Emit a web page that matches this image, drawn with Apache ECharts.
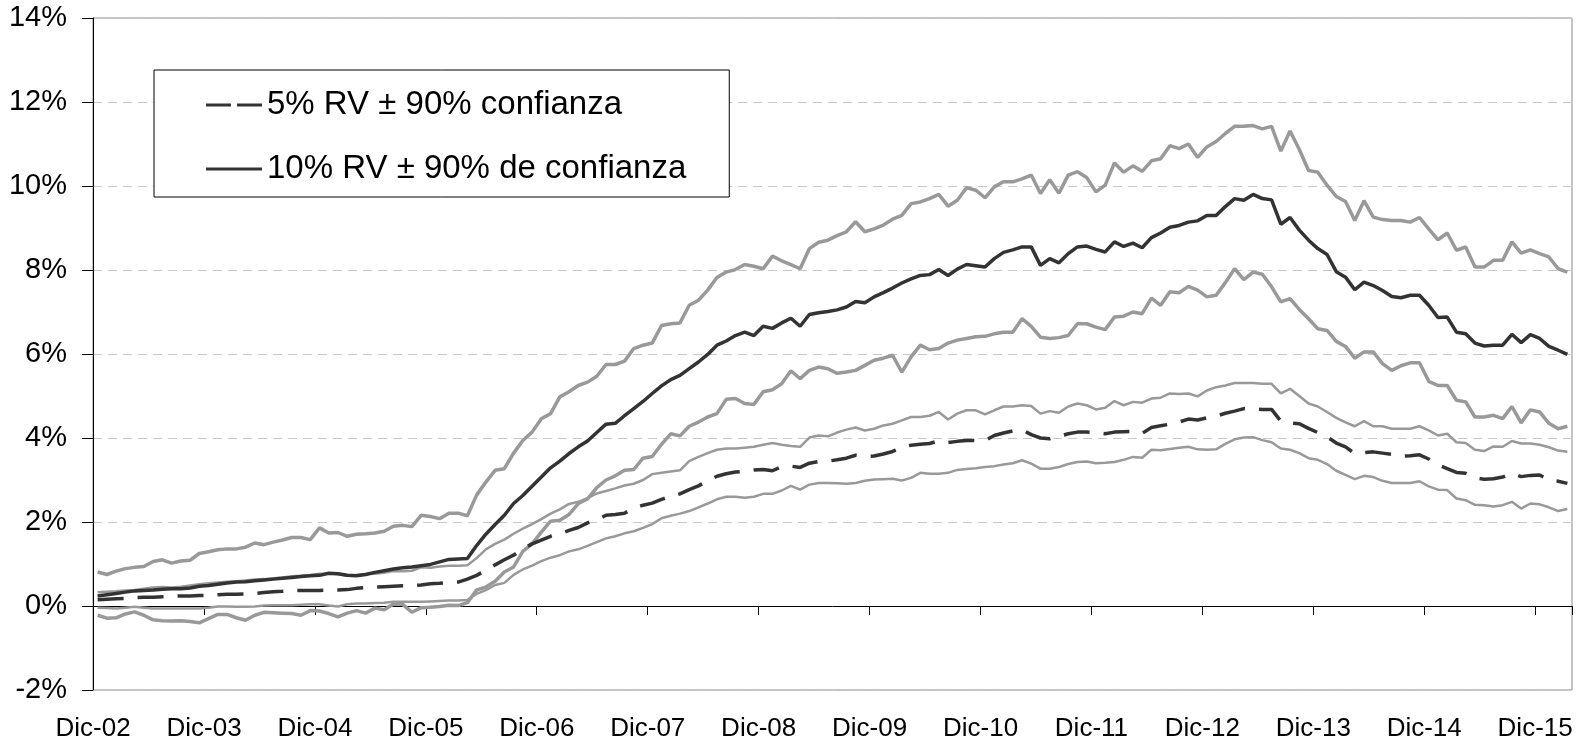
<!DOCTYPE html>
<html>
<head>
<meta charset="utf-8">
<script src="https://cdn.jsdelivr.net/npm/echarts@6/dist/echarts.min.js"></script>
<style>
html,body{margin:0;padding:0;background:#fff;}
#chart{width:1594px;height:748px;}
</style>
</head>
<body>
<div id="chart"></div>
<script>
// Monthly categories Dic-02 .. Mar-16 (160 months)
const monthNames = ['Ene','Feb','Mar','Abr','May','Jun','Jul','Ago','Sep','Oct','Nov','Dic'];
const startMonth = 11, startYear = 2, monthCount = 160;
const categories = [];
for (let k = 0; k < monthCount; k++) {
  const m = (startMonth + k) % 12;
  const y = startYear + Math.floor((startMonth + k) / 12);
  categories.push(monthNames[m] + '-' + String(y).padStart(2, '0'));
}

const yTicks = {min: -2, max: 14, interval: 2};

const name5 = '5% RV ± 90% confianza';
const name10 = '10% RV ± 90% de confianza';

// 10% RV: upper band, central, lower band (%)
const c10Upper = [
0.81,0.75,0.83,0.89,0.92,0.94,1.06,1.10,1.02,1.07,1.09,1.25,1.29,1.34,1.36,1.36,1.40,1.50,1.46,1.52,1.57,1.63,1.63,1.58,1.86,1.74,1.75,1.66,1.71,1.72,1.74,1.78,1.90,1.92,1.89,2.16,2.13,
2.08,2.21,2.21,2.15,2.64,2.95,3.23,3.27,3.64,3.94,4.14,4.46,4.58,4.98,5.10,5.25,5.33,5.47,5.75,5.75,5.83,6.13,6.21,6.26,6.68,6.72,6.74,7.16,7.28,7.52,7.82,7.95,8.01,8.13,8.09,8.03,
8.33,8.22,8.13,8.03,8.51,8.66,8.71,8.82,8.91,9.15,8.91,8.98,9.07,9.21,9.30,9.58,9.62,9.70,9.80,9.52,9.66,9.96,9.90,9.72,9.98,10.10,10.10,10.17,10.26,9.82,10.15,9.83,10.26,10.34,10.20,9.86,
10.02,10.55,10.33,10.48,10.35,10.60,10.65,10.96,10.89,11.00,10.68,10.93,11.06,11.25,11.42,11.42,11.44,11.36,11.42,10.83,11.31,10.87,10.37,10.33,10.02,
9.75,9.63,9.18,9.65,9.26,9.20,9.18,9.18,9.14,9.25,8.98,8.72,8.88,8.47,8.55,8.07,8.07,8.23,8.23,8.67,8.40,8.48,8.39,8.31,8.03,7.95];

const c10Central = [
0.24,0.27,0.30,0.33,0.36,0.37,0.38,0.40,0.41,0.41,0.43,0.47,0.49,0.52,0.55,0.57,0.58,0.60,0.62,0.64,0.66,0.68,0.70,0.72,0.73,0.78,0.77,0.73,0.72,0.75,0.80,0.84,0.88,0.91,0.93,0.96,0.99,
1.05,1.11,1.12,1.13,1.44,1.71,1.94,2.16,2.44,2.63,2.85,3.07,3.29,3.45,3.63,3.79,3.93,4.13,4.33,4.35,4.53,4.70,4.87,5.06,5.24,5.39,5.49,5.65,5.81,5.99,6.21,6.31,6.44,6.52,6.44,6.66,
6.61,6.74,6.85,6.66,6.94,6.98,7.01,7.05,7.12,7.25,7.22,7.36,7.46,7.57,7.69,7.79,7.87,7.89,8.01,7.87,8.02,8.13,8.10,8.07,8.27,8.42,8.48,8.55,8.55,8.11,8.27,8.17,8.39,8.55,8.57,8.49,
8.43,8.67,8.56,8.64,8.53,8.77,8.88,9.02,9.06,9.14,9.17,9.30,9.30,9.51,9.70,9.66,9.80,9.70,9.67,9.09,9.25,8.95,8.71,8.51,8.37,
7.96,7.83,7.53,7.71,7.63,7.51,7.37,7.34,7.40,7.40,7.16,6.87,6.88,6.52,6.48,6.26,6.19,6.21,6.21,6.47,6.27,6.46,6.37,6.18,6.09,5.99];

const c10Lower = [
-0.22,-0.29,-0.28,-0.19,-0.14,-0.22,-0.33,-0.35,-0.36,-0.35,-0.37,-0.40,-0.30,-0.20,-0.20,-0.28,-0.34,-0.22,-0.15,-0.16,-0.17,-0.18,-0.22,-0.11,-0.12,-0.18,-0.26,-0.17,-0.11,-0.17,-0.05,-0.09,0.05,0.04,-0.15,-0.04,-0.03,
-0.01,0.02,0.01,0.08,0.38,0.45,0.59,0.81,0.93,1.30,1.48,1.76,2.02,2.04,2.18,2.44,2.55,2.82,3.00,3.10,3.23,3.25,3.52,3.56,3.85,4.10,4.05,4.28,4.38,4.50,4.58,4.92,4.94,4.82,4.80,5.10,
5.15,5.29,5.60,5.41,5.61,5.69,5.65,5.54,5.57,5.61,5.73,5.85,5.90,5.97,5.57,5.93,6.21,6.10,6.13,6.26,6.33,6.37,6.41,6.42,6.48,6.52,6.52,6.84,6.66,6.40,6.37,6.39,6.44,6.72,6.72,6.64,
6.58,6.88,6.90,7.00,6.96,7.33,7.16,7.48,7.46,7.61,7.52,7.36,7.40,7.70,8.03,7.77,7.95,7.90,7.60,7.24,7.32,7.06,6.84,6.60,6.56,
6.30,6.18,5.90,6.05,6.05,5.77,5.61,5.72,5.79,5.79,5.35,5.25,5.25,4.90,4.86,4.50,4.50,4.54,4.46,4.75,4.36,4.67,4.62,4.35,4.22,4.28];

// 5% RV: upper band, central, lower band (%)
const c5Upper = [
0.33,0.34,0.35,0.37,0.38,0.41,0.44,0.45,0.44,0.46,0.49,0.52,0.54,0.56,0.58,0.59,0.61,0.63,0.64,0.66,0.68,0.71,0.72,0.74,0.77,0.77,0.76,0.72,0.74,0.76,0.77,0.79,0.83,0.83,0.84,0.92,0.91,
0.94,0.96,0.96,0.97,1.14,1.35,1.48,1.58,1.72,1.84,1.95,2.07,2.20,2.30,2.43,2.48,2.57,2.68,2.74,2.80,2.87,2.91,3.00,3.14,3.17,3.20,3.23,3.45,3.55,3.64,3.72,3.75,3.75,3.77,3.79,3.84,
3.88,3.84,3.81,3.79,4.01,4.06,4.04,4.13,4.20,4.25,4.18,4.22,4.30,4.34,4.42,4.50,4.50,4.53,4.62,4.44,4.58,4.66,4.66,4.56,4.66,4.75,4.75,4.78,4.76,4.58,4.64,4.60,4.75,4.82,4.78,4.68,
4.72,4.88,4.78,4.86,4.84,4.94,4.96,5.06,5.05,5.06,4.99,5.13,5.21,5.25,5.31,5.31,5.31,5.29,5.29,5.06,5.17,5.00,4.82,4.75,4.62,
4.48,4.37,4.28,4.40,4.28,4.28,4.22,4.22,4.22,4.28,4.18,4.06,4.10,3.90,3.88,3.72,3.69,3.80,3.79,3.93,3.87,3.87,3.84,3.78,3.70,3.67];

const c5Central = [
0.15,0.16,0.17,0.18,0.20,0.21,0.21,0.22,0.23,0.24,0.24,0.25,0.25,0.27,0.28,0.28,0.29,0.30,0.32,0.34,0.35,0.37,0.37,0.37,0.37,0.38,0.38,0.39,0.42,0.44,0.45,0.46,0.47,0.48,0.48,0.50,0.53,
0.54,0.56,0.57,0.64,0.73,0.85,0.98,1.10,1.21,1.36,1.48,1.57,1.66,1.72,1.80,1.87,1.98,2.05,2.16,2.18,2.21,2.33,2.40,2.45,2.54,2.61,2.67,2.77,2.86,2.98,3.09,3.15,3.19,3.21,3.24,3.25,
3.22,3.32,3.33,3.30,3.40,3.44,3.45,3.48,3.52,3.59,3.56,3.57,3.62,3.68,3.77,3.83,3.85,3.87,3.93,3.89,3.92,3.94,3.94,3.94,4.06,4.12,4.17,4.20,4.08,4.00,3.98,4.04,4.10,4.14,4.14,4.13,
4.10,4.14,4.15,4.16,4.11,4.25,4.29,4.33,4.38,4.45,4.43,4.48,4.52,4.59,4.64,4.70,4.69,4.68,4.68,4.40,4.36,4.34,4.23,4.13,4.03,
3.88,3.79,3.63,3.65,3.67,3.64,3.61,3.57,3.58,3.60,3.50,3.36,3.27,3.18,3.16,3.05,3.02,3.03,3.07,3.16,3.08,3.11,3.12,3.00,2.97,2.92];

const c5Lower = [
-0.04,-0.05,-0.06,-0.04,-0.02,-0.04,-0.06,-0.06,-0.06,-0.06,-0.06,-0.06,-0.04,-0.01,-0.01,-0.02,-0.02,-0.01,0.01,0.02,0.02,0.02,0.03,0.04,0.04,0.01,-0.01,0.04,0.06,0.06,0.07,0.08,0.10,0.10,0.10,0.10,0.11,
0.12,0.13,0.13,0.14,0.29,0.38,0.50,0.55,0.74,0.87,0.96,1.07,1.15,1.21,1.30,1.35,1.43,1.52,1.61,1.66,1.73,1.78,1.86,1.95,2.09,2.15,2.20,2.26,2.35,2.44,2.54,2.60,2.60,2.58,2.60,2.67,
2.67,2.75,2.86,2.77,2.89,2.93,2.93,2.92,2.91,2.93,2.98,3.01,3.02,3.03,2.99,3.05,3.17,3.15,3.15,3.17,3.24,3.26,3.28,3.31,3.33,3.37,3.40,3.47,3.39,3.27,3.27,3.31,3.38,3.43,3.44,3.40,
3.41,3.43,3.48,3.55,3.53,3.72,3.71,3.74,3.77,3.79,3.73,3.72,3.73,3.86,3.97,4.01,4.02,3.95,3.90,3.75,3.72,3.64,3.52,3.48,3.38,
3.22,3.12,3.02,3.10,3.07,2.98,2.93,2.93,2.93,2.97,2.85,2.77,2.76,2.56,2.52,2.41,2.40,2.37,2.40,2.48,2.32,2.44,2.42,2.35,2.26,2.31];

const FONT = "'Liberation Sans', Arial, sans-serif";
const DARK = '#333333';
const GRAY = '#999999';

function band(name, data, width) {
  return {name: name, type: 'line', data: data, symbol: 'none', silent: true,
    lineStyle: {color: GRAY, width: width}, itemStyle: {color: GRAY}, z: 2};
}

const chart = echarts.init(document.getElementById('chart'), null, {renderer: 'canvas'});
chart.setOption({
  animation: false,
  backgroundColor: '#ffffff',
  textStyle: {fontFamily: FONT},
  grid: {left: 93, right: 22, top: 18, bottom: 58, show: true, borderColor: '#8a8a8a', borderWidth: 1, backgroundColor: 'transparent'},
  legend: {
    data: [
      {name: name5, icon: 'path://M0,0H25V3H0Z M31,0H56V3H31Z'},
      {name: name10, icon: 'path://M0,0H56V3H0Z'}
    ],
    orient: 'vertical',
    left: 154, top: 70,
    padding: [18, 43, 11, 52],
    itemGap: 30,
    itemWidth: 56, itemHeight: 3,
    borderColor: '#000', borderWidth: 1, backgroundColor: '#fff',
    selectedMode: false,
    textStyle: {fontFamily: FONT, fontSize: 33, color: '#000', lineHeight: 34}
  },
  xAxis: {
    type: 'category',
    data: categories,
    boundaryGap: true,
    axisLine: {lineStyle: {color: '#000', width: 1}},
    axisTick: {show: true, length: 9, lineStyle: {color: '#000'}, alignWithLabel: false,
      interval: function (i) { return i % 12 === 0; }},
    axisLabel: {interval: function (i) { return i % 12 === 0; }, fontFamily: FONT, fontSize: 26, color: '#000', margin: 26, padding: [0, 9, 0, 0]},
    splitLine: {show: false}
  },
  yAxis: {
    type: 'value',
    min: yTicks.min, max: yTicks.max, interval: yTicks.interval,
    axisLine: {show: true, lineStyle: {color: '#000', width: 1}},
    axisTick: {show: true, length: 11, lineStyle: {color: '#000'}},
    axisLabel: {formatter: '{value}%', fontFamily: FONT, fontSize: 29, color: '#000', margin: 26},
    splitLine: {show: true, lineStyle: {color: '#c8c8c8', width: 1, type: [9, 6]}}
  },
  series: [
    band('10% RV superior', c10Upper, 3.5),
    band('10% RV inferior', c10Lower, 3.5),
    band('5% RV superior', c5Upper, 2.5),
    band('5% RV inferior', c5Lower, 2.5),
    {name: name5, type: 'line', data: c5Central, symbol: 'none', z: 3,
      lineStyle: {color: DARK, width: 3.5, type: [26, 14]}, itemStyle: {color: DARK}},
    {name: name10, type: 'line', data: c10Central, symbol: 'none', z: 3,
      lineStyle: {color: DARK, width: 3.5}, itemStyle: {color: DARK}}
  ]
});
</script>
</body>
</html>
